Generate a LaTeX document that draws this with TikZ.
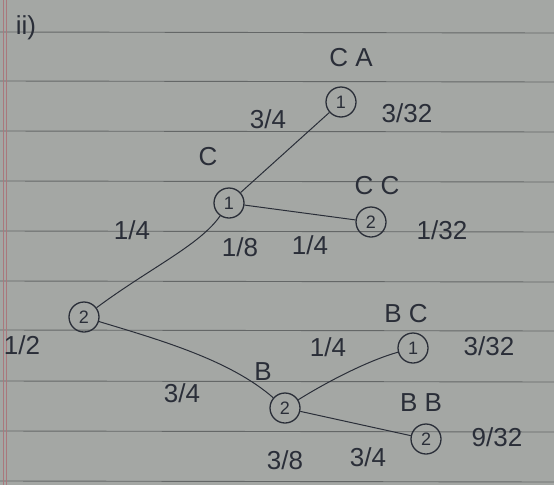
\documentclass[tikz,border=0pt]{standalone}
\usepackage{fontspec}
\setmainfont{Liberation Sans}
\begin{document}
\begin{tikzpicture}[x=1pt,y=-1pt,
  ink/.style={draw=inkc, line width=1pt},
  st/.style={circle, draw=inkc, line width=1.3pt, minimum size=30pt, inner sep=0pt, text=inkc, font=\fontsize{18}{18}\selectfont},
  lab/.style={text=inkc, font=\fontsize{26}{26}\selectfont, inner sep=0pt},
  rule/.style={draw=rulec, line width=0.9pt}]
\definecolor{paper}{RGB}{164,167,164}
\definecolor{inkc}{RGB}{42,46,56}
\definecolor{rulec}{RGB}{100,103,103}
\definecolor{marg}{RGB}{170,120,125}
\fill[paper] (0,0) rectangle (554,485);
\useasboundingbox (0,0) rectangle (554,485);
% ruled lines
\foreach \y in {32,81,131,181,231,281,330,381,431,481}
  \draw[rule] (0,\y) -- (554,\y+1);
\draw[marg, line width=0.8pt] (3,0) -- (3,485);
\draw[marg, line width=0.8pt] (6,0) -- (6,485);
% nodes
\node[st] (r) at (84,317) {2};
\node[st] (c) at (229,203) {1};
\node[st] (ca) at (341,102) {1};
\node[st] (cc) at (371,222) {2};
\node[st] (b) at (285,408) {2};
\node[st] (bc) at (413,348) {1};
\node[st] (bb) at (426,439) {2};
% edges
\draw[ink] (r) .. controls (150,268) and (200,245) .. (c);
\draw[ink] (c) -- (ca);
\draw[ink] (c) -- (cc);
\draw[ink] (r) .. controls (160,340) and (230,360) .. (b);
\draw[ink] (b) .. controls (330,380) and (370,360) .. (bc);
\draw[ink] (b) -- (bb);
% labels
\node[lab] (t0) at (26,28) {ii)};
\node[lab] (l1) at (351,58) {C A};
\node[lab] (l2) at (268,119) {3/4};
\node[lab] (l3) at (407,113) {3/32};
\node[lab] (l4) at (208,157) {C};
\node[lab] (l5) at (377,186) {C C};
\node[lab] (l6) at (132,230) {1/4};
\node[lab] (l7) at (240,247) {1/8};
\node[lab] (l8) at (310,245) {1/4};
\node[lab] (l9) at (442,230) {1/32};
\node[lab] (l10) at (22,345) {1/2};
\node[lab] (l11) at (406,314) {B C};
\node[lab] (l12) at (489,346) {3/32};
\node[lab] (l13) at (182,393) {3/4};
\node[lab] (l14) at (263,372) {B};
\node[lab] (l15) at (421,403) {B B};
\node[lab] (l16) at (328,347) {1/4};
\node[lab] (l17) at (497,437) {9/32};
\node[lab] (l18) at (285,460) {3/8};
\node[lab] (l19) at (368,457) {3/4};
\end{tikzpicture}
\end{document}
